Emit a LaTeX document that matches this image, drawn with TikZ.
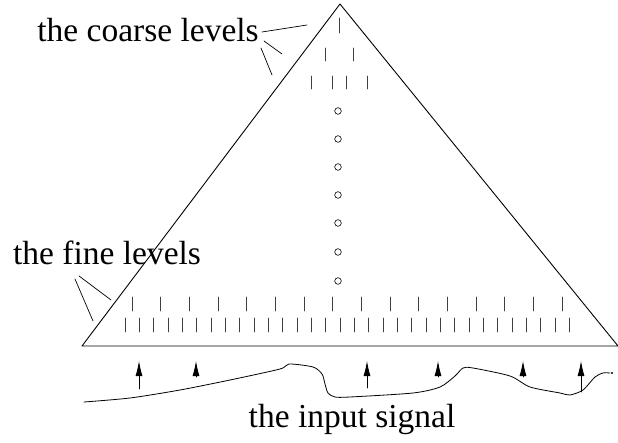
\documentclass[tikz,border=0pt]{standalone}
\usepackage{fontspec}
\setmainfont{Liberation Serif}
\usetikzlibrary{arrows.meta}
\tikzset{
  lbl/.style={inner sep=0pt,anchor=base,font=\fontsize{33.5}{40}\selectfont},
  tick/.style={draw=black!75,line width=0.8pt},
  lead/.style={line width=0.7pt},
  inarrow/.style={line width=0.8pt,-{Latex[length=15pt,width=7pt]}}
}
\begin{document}
\begin{tikzpicture}[x=1pt,y=-1pt,line join=round,line cap=round]
  \useasboundingbox (0,0) rectangle (618,443);
  % the triangle
  \path (340,4) coordinate (T) (82,346) coordinate (L) (618,346) coordinate (R);
  \draw[line width=0.9pt] (L) -- (T) -- (R) -- cycle;
  % coarse levels
  \draw[tick] (339,18) -- (339,33);
  \foreach \x in {325,353}{\draw[tick] (\x,48) -- (\x,61);}
  \foreach \x in {311,332,346,367}{\draw[tick] (\x,76) -- (\x,89);}
  \foreach \y in {111,139,167,195,223,252,281}{\draw[line width=0.6pt] (338,\y) circle (3.3pt);}
  % fine levels
  \foreach \i in {0,...,15}{\draw[tick] ({132.2+28.66*\i},297) -- ({132.2+28.66*\i},311);}
  \foreach \i in {0,...,31}{\draw[tick] ({125+14.33*\i},318) -- ({125+14.33*\i},332);}
  % labels
  \node[lbl] (coarse) at (148,42) {the coarse levels};
  \node[lbl] (fine) at (107,265) {the fine levels};
  \node[lbl] (input) at (352,427) {the input signal};
  \path
  (262,32) coordinate (c1) (307,25) coordinate (c1e)
  (264,41) coordinate (c2) (282,54) coordinate (c2e)
  (261,48) coordinate (c3) (272,75) coordinate (c3e)
  (79,276) coordinate (f1) (111,300) coordinate (f1e)
  (75,279) coordinate (f2) (93,321) coordinate (f2e);
  \draw[lead] (c1) -- (c1e);
  \draw[lead] (c2) -- (c2e);
  \draw[lead] (c3) -- (c3e);
  \draw[lead] (f1) -- (f1e);
  \draw[lead] (f2) -- (f2e);
  % the input signal
  \draw[line width=0.8pt] plot[smooth,tension=0.45] coordinates {
    (84,402) (130,398) (180,390) (230,380) (280,369) (289,364) (313,367)
    (322,374) (325,384) (328,393) (335,397) (350,397) (413,393) (440,387)
    (455,376) (463,368) (473,368) (510,376) (530,387) (560,393) (570,395)
    (583,390) (595,377) (603,373) (610,373)};
  \fill (612,373) circle (1.2pt);
  % samples
  \foreach \x/\b in {139/389,367/388,581/392,196/377,438/377,523/377}{
    \draw[inarrow] (\x,\b) coordinate (s\x) -- (\x,361);
  }
\end{tikzpicture}
\end{document}
